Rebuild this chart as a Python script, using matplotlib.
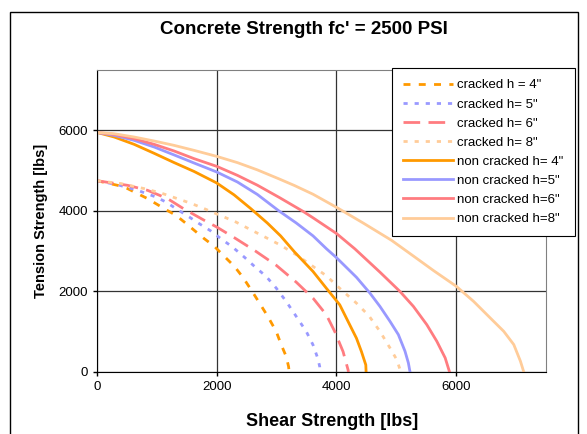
import matplotlib
matplotlib.use("Agg")
import matplotlib.pyplot as plt
from matplotlib.patches import Rectangle

plt.rcParams['font.family'] = ['Liberation Sans', 'DejaVu Sans']

title = "Concrete Strength fc' = 2500 PSI"
xlabel = "Shear Strength [lbs]"
ylabel = "Tension Strength [lbs]"
xticks = [0, 2000, 4000, 6000]
yticks = [0, 2000, 4000, 6000]

# cracked curves (shear, tension)
cr4_x = [0, 344, 511, 678, 844, 983, 1150, 1317, 1456, 1622, 1789, 1961, 2128, 2296,
         2435, 2575, 2715, 2854, 2994, 3078, 3161, 3200, 3210]
cr4_y = [4750, 4636, 4554, 4430, 4306, 4182, 4033, 3893, 3727, 3521, 3314, 3119, 2870, 2622,
         2356, 2041, 1710, 1378, 1005, 674, 383, 135, 0]
cr5_x = [0, 344, 678, 983, 1150, 1345, 1539, 1706, 1900, 2067, 2261, 2463, 2631, 2826,
         2994, 3161, 3329, 3496, 3608, 3690, 3720, 3725]
cr5_y = [4750, 4650, 4512, 4347, 4223, 4033, 3851, 3686, 3504, 3314, 3107, 2850, 2622, 2373,
         2083, 1751, 1378, 1005, 674, 330, 135, 0]
cr6_x = [0, 511, 844, 1178, 1440, 1789, 2000, 2289, 2640, 2994, 3329, 3608, 3831, 3971,
         4110, 4194, 4200]
cr6_y = [4750, 4636, 4512, 4306, 4060, 3769, 3600, 3340, 3010, 2650, 2230, 1834, 1420, 1005,
         508, 52, 0]
cr8_x = [0, 400, 789, 1067, 1261, 1567, 1789, 2040, 2317, 2545, 2795, 3060, 3329, 3608,
         3831, 4082, 4334, 4540, 4726, 4894, 5006, 5062, 5065]
cr8_y = [4750, 4680, 4554, 4446, 4347, 4190, 4058, 3900, 3727, 3550, 3360, 3155, 2912, 2622,
         2390, 2041, 1710, 1400, 1010, 597, 309, 61, 0]

# non cracked curves
nc4_x = [0, 289, 622, 956, 1289, 1622, 2000, 2289, 2567, 2845, 3067, 3300, 3608, 3831,
         4055, 4222, 4334, 4417, 4490, 4495]
nc4_y = [5950, 5835, 5653, 5430, 5200, 4980, 4694, 4400, 4060, 3700, 3380, 2980, 2497, 2080,
         1668, 1171, 839, 508, 176, 0]
nc5_x = [0, 289, 622, 956, 1289, 1622, 2000, 2345, 2678, 3030, 3329, 3609, 3833, 4000,
         4335, 4559, 4726, 4894, 5034, 5145, 5201, 5229]
nc5_y = [5950, 5876, 5752, 5587, 5390, 5190, 4967, 4719, 4410, 4010, 3700, 3380, 3060, 2840,
         2350, 1959, 1629, 1258, 928, 515, 226, 0]
nc6_x = [0, 289, 622, 956, 1289, 1622, 2000, 2345, 2678, 3050, 3441, 3608, 4000, 4306,
         4726, 5061, 5285, 5509, 5676, 5816, 5889]
nc6_y = [5950, 5901, 5793, 5653, 5488, 5298, 5107, 4884, 4640, 4330, 3990, 3830, 3440, 3060,
         2480, 2000, 1629, 1175, 763, 350, 0]
nc8_x = [0, 289, 622, 956, 1289, 1622, 2000, 2345, 2678, 3050, 3300, 3608, 4000, 4446,
         4920, 5285, 5620, 6000, 6291, 6570, 6794, 6962, 7073, 7129]
nc8_y = [5950, 5917, 5835, 5736, 5628, 5504, 5355, 5200, 5020, 4790, 4630, 4415, 4090, 3700,
         3270, 2880, 2520, 2130, 1753, 1340, 1010, 680, 268, 0]

labels = ['cracked h = 4"', 'cracked h= 5"', 'cracked h= 6"', 'cracked h= 8"',
          'non cracked h= 4"', 'non cracked h=5"', 'non cracked h=6"', 'non cracked h=8"']

orange = '#FF9900'
blue = '#9999FF'
red = '#FF7C80'
peach = '#FFCC99'

fig = plt.figure(figsize=(5.87, 4.34), dpi=100)
ax = fig.add_axes([97/587, 1-372/434, (546-97)/587, (372-70)/434])

lw = 2
ax.plot(cr4_x, cr4_y, color=orange, lw=lw, dashes=(2.5, 3), label=labels[0])
ax.plot(cr5_x, cr5_y, color=blue, lw=lw, dashes=(1.5, 2.5), label=labels[1])
ax.plot(cr6_x, cr6_y, color=red, lw=lw, dashes=(6, 3), label=labels[2])
ax.plot(cr8_x, cr8_y, color=peach, lw=lw, dashes=(1.5, 2.5), label=labels[3])
ax.plot(nc4_x, nc4_y, color=orange, lw=lw, label=labels[4])
ax.plot(nc5_x, nc5_y, color=blue, lw=lw, label=labels[5])
ax.plot(nc6_x, nc6_y, color=red, lw=lw, label=labels[6])
ax.plot(nc8_x, nc8_y, color=peach, lw=lw, label=labels[7])

ax.set_xlim(0, 7500)
ax.set_ylim(0, 7500)
ax.set_xticks(xticks)
ax.set_yticks(yticks)
ax.tick_params(labelsize=9.5, length=3, direction='out', width=1)
ax.grid(True, color='#333333', lw=0.9)
ax.set_axisbelow(True)
for s in ['top', 'right']:
    ax.spines[s].set_color('#808080')
for s in ['left', 'bottom']:
    ax.spines[s].set_color('black')

ax.set_xlabel(xlabel, fontsize=13, fontweight='bold')
ax.xaxis.set_label_coords((332-97)/449, -0.136)
ax.set_ylabel(ylabel, fontsize=10.5, fontweight='bold')
ax.yaxis.set_label_coords(-0.109, 0.5)
fig.text(304/587, 1-30/434, title, ha='center', va='center', fontsize=13.5, fontweight='bold')

leg = ax.legend(loc='upper left', bbox_to_anchor=(392/587, 1-68/434),
                bbox_transform=fig.transFigure, borderaxespad=0, fontsize=9.5,
                frameon=True, fancybox=False, edgecolor='black', framealpha=1,
                handlelength=3.8, handletextpad=0.3, labelspacing=0.52, borderpad=0.85)
leg.get_frame().set_linewidth(0.8)
leg.set_zorder(10)

fig.patches.append(Rectangle((10/587, -0.05), (578-10)/587, 1.05 - 12/434,
                             transform=fig.transFigure, fill=False, edgecolor='black',
                             lw=1, zorder=-1))

fig.savefig('out.png', dpi=100)
